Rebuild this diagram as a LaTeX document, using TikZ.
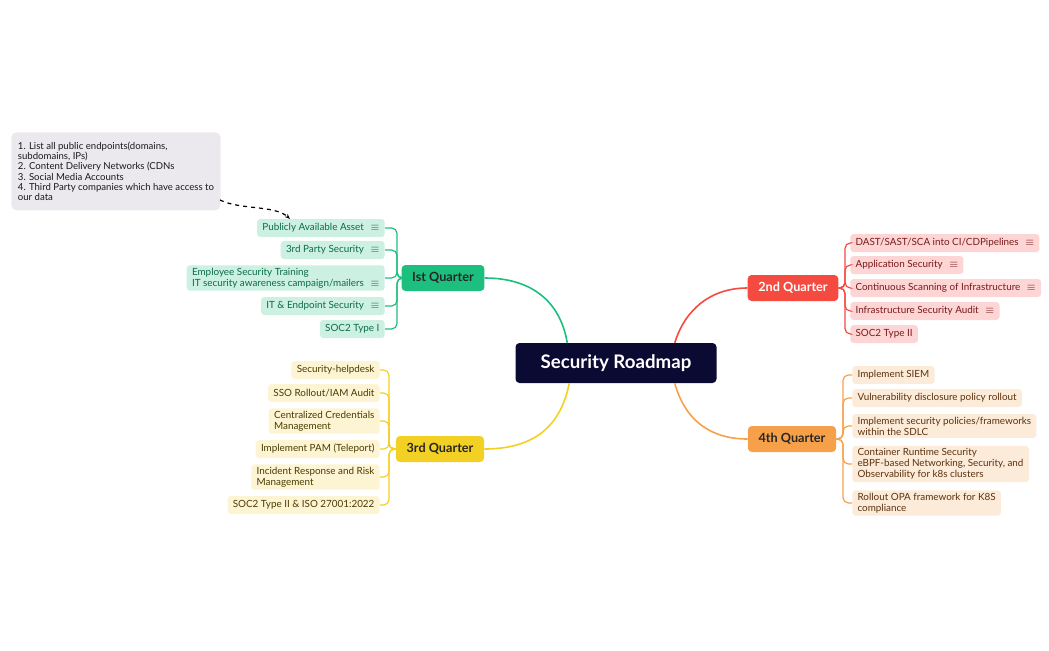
\documentclass[tikz,border=0pt]{standalone}
\usepackage{fontspec}
\setmainfont{Lato}
\usetikzlibrary{arrows.meta}
\definecolor{root}{HTML}{0B0A33}
\definecolor{qa}{HTML}{1DBF7F}\definecolor{la}{HTML}{CCF0E2}\definecolor{ta}{HTML}{0D6B48}
\definecolor{qb}{HTML}{F44A3F}\definecolor{lb}{HTML}{FCD5D4}\definecolor{tb}{HTML}{7A1A1A}
\definecolor{qc}{HTML}{F2D024}\definecolor{lc}{HTML}{FCF4D3}\definecolor{tc}{HTML}{4A3B00}
\definecolor{qd}{HTML}{F7A04A}\definecolor{ld}{HTML}{FDEBD9}\definecolor{td}{HTML}{5A3210}
\definecolor{notef}{HTML}{EBE9EE}
\newcommand{\ico}{\hspace{5pt}{\fontsize{8}{8}\selectfont$\equiv$}}
\tikzset{
 leaf/.style={rounded corners=2.5pt,inner xsep=4pt,inner ysep=2pt,minimum height=13.5pt,font=\fontsize{7.4}{8.3}\selectfont,align=left},
 quarter/.style={rounded corners=3pt,minimum height=19.5pt,inner xsep=8pt,font=\fontsize{9.5}{10}\selectfont\bfseries},
 conn/.style={line width=0.9pt,rounded corners=4pt},
}
\begin{document}
\begin{tikzpicture}[x=0.75pt,y=-0.75pt]
\useasboundingbox (0,0) rectangle (1049,650);
\node[fill=root,text=white,rounded corners=3pt,minimum width=150.75pt,minimum height=30pt,font=\fontsize{14}{14}\selectfont\bfseries] (root) at (616,363) {Security Roadmap};
\node[quarter,fill=qa,text=black!85] (q1) at (443,278) {Ist Quarter};
\node[quarter,fill=qb,text=white] (q2) at (793,288) {2nd Quarter};
\node[quarter,fill=qc,text=black!85] (q3) at (440,449) {3rd Quarter};
\node[quarter,fill=qd,text=black!85] (q4) at (792,439) {4th Quarter};
\draw[qa,line width=1.2pt] (root.north west) ++(52,0) coordinate (r1) (r1) .. controls (560,300) and (530,278) .. (q1.east);
\draw[qb,line width=1.2pt] (root.north east) ++(-42,0) coordinate (r2) (r2) .. controls (685,310) and (710,288) .. (q2.west);
\draw[qc,line width=1.2pt] (root.south west) ++(54,0) coordinate (r3) (r3) .. controls (560,430) and (530,449) .. (q3.east);
\draw[qd,line width=1.2pt] (root.south east) ++(-42,0) coordinate (r4) (r4) .. controls (685,420) and (710,439) .. (q4.west);
\begin{scope}[every node/.style={leaf,fill=la,text=ta,anchor=east}]
\node (a1) at (385,228) {Publicly Available Asset\ico};
\node (a2) at (385,250) {3rd Party Security\ico};
\node (a3) at (385,278) {Employee Security Training\\IT security awareness campaign/mailers\ico};
\node (a4) at (385,306) {IT \& Endpoint Security\ico};
\node (a5) at (385,329) {SOC2 Type I};
\end{scope}
\coordinate (s1) at (397,278);
\foreach \l in {a1,a2,a3,a4,a5} \draw[conn,qa] (q1.west) -- (s1) |- (\l.east);
\begin{scope}[every node/.style={leaf,fill=lb,text=tb,anchor=west}]
\node (b1) at (850,243) {DAST/SAST/SCA into CI/CDPipelines\ico};
\node (b2) at (850,265) {Application Security\ico};
\node (b3) at (850,288) {Continuous Scanning of Infrastructure\ico};
\node (b4) at (850,311) {Infrastructure Security Audit\ico};
\node (b5) at (850,334) {SOC2 Type II};
\end{scope}
\coordinate (s2) at (845,288);
\foreach \l in {b1,b2,b3,b4,b5} \draw[conn,qb] (q2.east) -- (s2) |- (\l.west);
\begin{scope}[every node/.style={leaf,fill=lc,text=tc,anchor=east}]
\node (c1) at (380,370) {Security-helpdesk};
\node (c2) at (380,393) {SSO Rollout/IAM Audit};
\node (c3) at (380,421) {Centralized Credentials\\Management};
\node (c4) at (380,449) {Implement PAM (Teleport)};
\node (c5) at (380,477) {Incident Response and Risk\\Management};
\node (c6) at (380,505) {SOC2 Type II \& ISO 27001:2022};
\end{scope}
\coordinate (s3) at (389,449);
\foreach \l in {c1,c2,c3,c4,c5,c6} \draw[conn,qc] (q3.west) -- (s3) |- (\l.east);
\begin{scope}[every node/.style={leaf,fill=ld,text=td,anchor=west}]
\node (d1) at (852,375) {Implement SIEM};
\node (d2) at (852,398) {Vulnerability disclosure policy rollout};
\node (d3) at (852,426) {Implement security policies/frameworks\\within the SDLC};
\node (d4) at (852,464) {Container Runtime Security\\eBPF-based Networking, Security, and\\Observability for k8s clusters};
\node (d5) at (852,503) {Rollout OPA framework for K8S\\compliance};
\end{scope}
\coordinate (s4) at (843,439);
\foreach \l in {d1,d2,d3,d4,d5} \draw[conn,qd] (q4.east) -- (s4) |- (\l.west);
\node[fill=notef,rounded corners=4pt,anchor=north west,minimum width=156pt,minimum height=58.5pt,inner xsep=5pt,inner ysep=5pt,align=left,font=\fontsize{7.2}{7.7}\selectfont,text=black!90] (note) at (11,132) {1. List all public endpoints(domains,\\subdomains, IPs)\\2. Content Delivery Networks (CDNs\\3. Social Media Accounts\\4. Third Party companies which have access to\\our data};
\coordinate (n1) at (220,200);
\coordinate (n2) at (290,219);
\draw[dashed,line width=0.9pt,-{Stealth[length=4pt]}] (n1) .. controls (240,210) and (275,205) .. (n2);
\end{tikzpicture}
\end{document}
